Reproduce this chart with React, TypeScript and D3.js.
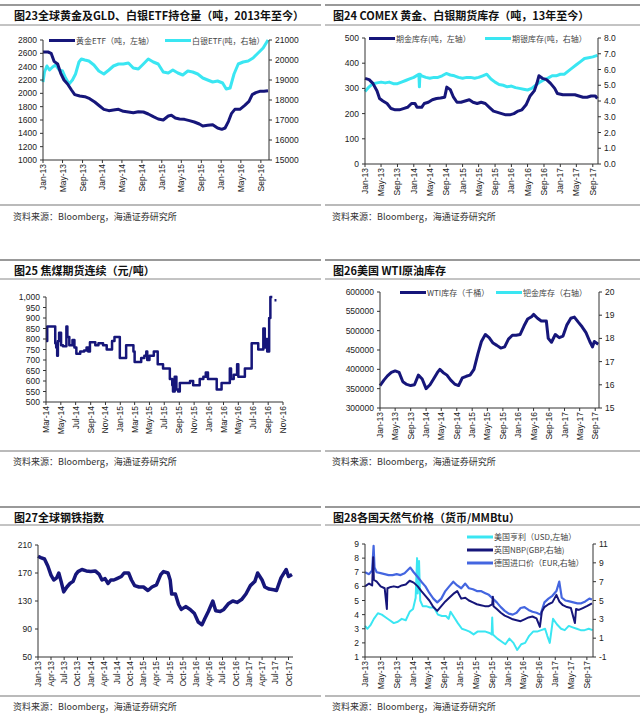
import React from "react";
import * as d3 from "d3";

type Pt = [string, number | null];

const NAVY = "#16167a";
const CYAN = "#3ae6f2";
const MIDBLUE = "#4466e0";

// 图23 全球黄金 / 白银 ETF
const goldEtf: Pt[] = [
	["2013-01-01", 2620], ["2013-02-01", 2620], ["2013-02-20", 2600], ["2013-03-10", 2480], ["2013-04-01", 2440],
	["2013-04-20", 2300], ["2013-05-10", 2200], ["2013-06-01", 2140], ["2013-06-25", 2050], ["2013-07-15", 1980],
	["2013-08-15", 1960], ["2013-09-15", 1950], ["2013-10-15", 1920], ["2013-11-15", 1870], ["2013-12-15", 1810],
	["2014-01-10", 1760], ["2014-02-10", 1740], ["2014-03-10", 1750], ["2014-04-10", 1760], ["2014-05-10", 1730],
	["2014-06-10", 1720], ["2014-07-10", 1710], ["2014-08-10", 1725], ["2014-09-10", 1720], ["2014-10-10", 1690],
	["2014-11-10", 1650], ["2014-12-10", 1615], ["2015-01-10", 1600], ["2015-02-10", 1660], ["2015-03-01", 1670],
	["2015-03-25", 1630], ["2015-04-20", 1615], ["2015-05-20", 1610], ["2015-06-20", 1590], ["2015-07-20", 1570],
	["2015-08-20", 1540], ["2015-09-10", 1510], ["2015-10-10", 1520], ["2015-11-10", 1530], ["2015-12-10", 1480],
	["2016-01-05", 1460], ["2016-01-25", 1480], ["2016-02-15", 1580], ["2016-03-05", 1700], ["2016-03-25", 1760],
	["2016-04-25", 1760], ["2016-05-25", 1820], ["2016-06-20", 1880], ["2016-07-10", 1980], ["2016-08-01", 2010],
	["2016-08-25", 2030], ["2016-09-20", 2030], ["2016-10-15", 2040],
];
const silverEtf: Pt[] = [
	["2013-01-01", 18900], ["2013-01-10", 19400], ["2013-01-25", 19700], ["2013-02-10", 19500], ["2013-03-01", 19650],
	["2013-03-20", 19750], ["2013-04-10", 19500], ["2013-05-01", 19450], ["2013-05-20", 19100], ["2013-06-10", 18800],
	["2013-07-01", 19000], ["2013-07-20", 19300], ["2013-08-10", 19900], ["2013-08-25", 20050], ["2013-09-15", 20000],
	["2013-10-10", 19950], ["2013-11-10", 19750], ["2013-12-10", 19450], ["2014-01-10", 19300], ["2014-02-10", 19500],
	["2014-03-10", 19700], ["2014-04-10", 19800], ["2014-05-10", 19800], ["2014-06-10", 19850], ["2014-07-10", 19600],
	["2014-08-10", 19550], ["2014-09-10", 19800], ["2014-10-10", 20050], ["2014-11-10", 19900], ["2014-12-10", 19800],
	["2015-01-10", 19400], ["2015-02-10", 19350], ["2015-03-10", 19500], ["2015-04-10", 19350], ["2015-05-10", 19250],
	["2015-06-10", 19450], ["2015-07-10", 19400], ["2015-08-10", 19300], ["2015-09-10", 19100], ["2015-10-10", 19000],
	["2015-11-10", 18900], ["2015-12-10", 18950], ["2016-01-10", 18850], ["2016-02-01", 18550], ["2016-02-25", 18600],
	["2016-03-20", 19300], ["2016-04-15", 19800], ["2016-05-15", 19900], ["2016-06-15", 19950], ["2016-07-15", 20100],
	["2016-08-15", 20350], ["2016-09-15", 20600], ["2016-10-15", 21000],
];

// 图24 COMEX 库存
const comexGold: Pt[] = [
	["2013-01-01", 340], ["2013-02-01", 335], ["2013-03-01", 320], ["2013-04-01", 290], ["2013-04-20", 260],
	["2013-05-15", 250], ["2013-06-15", 240], ["2013-07-15", 220], ["2013-08-15", 215], ["2013-09-15", 215],
	["2013-10-15", 220], ["2013-11-15", 225], ["2013-12-15", 240], ["2014-01-10", 240], ["2014-01-25", 225],
	["2014-03-01", 225], ["2014-03-20", 240], ["2014-04-20", 245], ["2014-05-20", 255], ["2014-06-20", 260],
	["2014-07-20", 262], ["2014-08-20", 265], ["2014-09-05", 305], ["2014-10-01", 295], ["2014-10-25", 265],
	["2014-11-20", 245], ["2014-12-20", 245], ["2015-01-20", 250], ["2015-02-20", 255], ["2015-03-20", 245],
	["2015-04-20", 240], ["2015-05-20", 245], ["2015-06-20", 240], ["2015-07-20", 225], ["2015-08-20", 210],
	["2015-09-20", 205], ["2015-10-20", 200], ["2015-11-20", 195], ["2015-12-20", 195], ["2016-01-20", 200],
	["2016-02-20", 210], ["2016-03-20", 215], ["2016-04-20", 235], ["2016-05-20", 270], ["2016-06-20", 290],
	["2016-07-10", 320], ["2016-07-25", 350], ["2016-08-20", 340], ["2016-09-20", 335], ["2016-10-20", 320],
	["2016-11-20", 300], ["2016-12-10", 280], ["2017-01-20", 275], ["2017-02-20", 275], ["2017-03-20", 275],
	["2017-04-20", 275], ["2017-05-20", 270], ["2017-06-20", 265], ["2017-07-20", 265], ["2017-08-20", 270],
	["2017-09-20", 270], ["2017-10-05", 260],
];
const comexSilver: Pt[] = [
	["2013-01-01", 4.6], ["2013-02-01", 4.9], ["2013-03-01", 5.1], ["2013-04-01", 5.15], ["2013-05-01", 5.2],
	["2013-06-01", 5.15], ["2013-07-01", 5.2], ["2013-08-01", 5.1], ["2013-09-01", 5.1], ["2013-10-01", 5.2],
	["2013-11-01", 5.3], ["2013-12-01", 5.4], ["2014-01-01", 5.5], ["2014-02-08", 5.7], ["2014-02-12", 4.9],
	["2014-02-16", 5.7], ["2014-03-01", 5.6], ["2014-04-01", 5.5], ["2014-05-01", 5.45], ["2014-06-01", 5.5],
	["2014-07-01", 5.5], ["2014-08-01", 5.6], ["2014-09-01", 5.75], ["2014-10-01", 5.65], ["2014-11-01", 5.6],
	["2014-12-01", 5.5], ["2015-01-01", 5.45], ["2015-02-01", 5.5], ["2015-03-01", 5.5], ["2015-04-01", 5.45],
	["2015-05-01", 5.5], ["2015-06-01", 5.6], ["2015-07-01", 5.7], ["2015-08-01", 5.4], ["2015-09-01", 5.2],
	["2015-10-01", 5.05], ["2015-11-01", 5.0], ["2015-12-01", 4.9], ["2016-01-01", 4.95], ["2016-02-01", 4.85],
	["2016-03-01", 4.8], ["2016-04-01", 4.75], ["2016-05-01", 4.7], ["2016-06-01", 4.8], ["2016-07-01", 5.0],
	["2016-08-01", 5.2], ["2016-09-01", 5.35], ["2016-10-01", 5.45], ["2016-11-01", 5.6], ["2016-12-01", 5.6],
	["2017-01-01", 5.7], ["2017-02-01", 5.7], ["2017-03-01", 5.9], ["2017-04-01", 6.1], ["2017-05-01", 6.3],
	["2017-06-01", 6.5], ["2017-07-01", 6.7], ["2017-08-01", 6.75], ["2017-09-01", 6.8], ["2017-10-05", 6.9],
];

// 图25 焦煤期货连续 (step series, null = gap)
const cokingCoal: Pt[] = [
	["2014-03-01", 790], ["2014-03-06", 860], ["2014-04-08", 780], ["2014-04-12", 760], ["2014-04-16", 720],
	["2014-04-19", 790], ["2014-04-24", 830], ["2014-05-02", 770], ["2014-05-10", 765], ["2014-05-24", 860],
	["2014-05-28", 810], ["2014-06-05", 770], ["2014-06-18", 795], ["2014-06-26", 760], ["2014-07-04", 730],
	["2014-07-20", 740], ["2014-08-05", 745], ["2014-08-15", 760], ["2014-08-22", 740], ["2014-08-29", 785],
	["2014-09-20", 770], ["2014-10-03", 780], ["2014-10-22", 770], ["2014-11-06", 750], ["2014-11-28", 790],
	["2014-12-08", 810], ["2014-12-30", 710], ["2015-01-25", 770], ["2015-02-24", 740], ["2015-03-01", 690],
	["2015-03-28", 710], ["2015-04-10", 720], ["2015-04-18", 740], ["2015-04-22", 700], ["2015-05-01", 720],
	["2015-05-19", 740], ["2015-06-04", 680], ["2015-06-26", 660], ["2015-07-24", 610], ["2015-08-03", 580],
	["2015-08-06", 550], ["2015-08-13", 620], ["2015-08-20", 560], ["2015-08-27", 550], ["2015-09-03", 590],
	["2015-10-15", 600], ["2015-10-28", 580], ["2015-11-24", 610], ["2015-12-09", 620], ["2015-12-19", 640],
	["2015-12-28", 610], ["2016-02-02", 560], ["2016-02-22", 590], ["2016-03-27", 660], ["2016-04-01", 610],
	["2016-04-12", 630], ["2016-04-26", 680], ["2016-05-01", 620], ["2016-05-28", 660], ["2016-06-25", 780],
	["2016-07-22", 750], ["2016-08-12", 850], ["2016-08-18", 760], ["2016-08-25", 800], ["2016-08-28", 740],
	["2016-09-05", 900], ["2016-09-10", 1000], ["2016-09-18", 1000], ["2016-09-21", null], ["2016-09-27", 985],
	["2016-10-05", 985],
];

// 图26 美国 WTI 原油库存 (千桶)
const wtiStocks: Pt[] = [
	["2013-01-01", 358000], ["2013-02-01", 372000], ["2013-03-01", 383000], ["2013-04-01", 392000], ["2013-05-01", 396000],
	["2013-06-01", 392000], ["2013-07-01", 368000], ["2013-08-01", 361000], ["2013-09-01", 358000], ["2013-10-01", 360000],
	["2013-11-01", 385000], ["2013-12-01", 375000], ["2014-01-01", 350000], ["2014-02-01", 360000], ["2014-03-01", 375000],
	["2014-04-01", 392000], ["2014-04-20", 400000], ["2014-05-15", 392000], ["2014-06-15", 385000], ["2014-07-15", 372000],
	["2014-08-15", 362000], ["2014-09-15", 358000], ["2014-10-15", 378000], ["2014-11-15", 382000], ["2014-12-15", 385000],
	["2015-01-15", 400000], ["2015-02-15", 440000], ["2015-03-15", 472000], ["2015-04-15", 490000], ["2015-05-15", 482000],
	["2015-06-15", 468000], ["2015-07-15", 462000], ["2015-08-15", 455000], ["2015-09-15", 458000], ["2015-10-15", 478000],
	["2015-11-15", 488000], ["2015-12-15", 488000], ["2016-01-15", 490000], ["2016-02-15", 512000], ["2016-03-15", 530000],
	["2016-04-15", 536000], ["2016-05-01", 542000], ["2016-06-01", 532000], ["2016-07-01", 525000], ["2016-08-10", 525000],
	["2016-08-25", 480000], ["2016-09-20", 470000], ["2016-10-20", 490000], ["2016-11-20", 482000], ["2016-12-20", 486000],
	["2017-01-20", 515000], ["2017-02-20", 532000], ["2017-03-20", 535000], ["2017-04-20", 522000], ["2017-05-20", 510000],
	["2017-06-20", 495000], ["2017-07-20", 472000], ["2017-08-10", 458000], ["2017-08-25", 472000], ["2017-09-25", 465000],
];

// 图27 全球钢铁指数
const steelIndex: Pt[] = [
	["2013-01-01", 194], ["2013-01-20", 192], ["2013-02-15", 190], ["2013-03-10", 180], ["2013-04-01", 167],
	["2013-04-20", 160], ["2013-05-10", 163], ["2013-05-25", 170], ["2013-06-10", 158], ["2013-06-28", 143],
	["2013-07-20", 150], ["2013-08-10", 155], ["2013-09-01", 158], ["2013-09-20", 168], ["2013-10-05", 172],
	["2013-11-01", 175], ["2013-12-01", 173], ["2014-01-01", 172], ["2014-02-01", 173], ["2014-03-01", 168],
	["2014-03-20", 160], ["2014-04-10", 162], ["2014-05-01", 155], ["2014-05-20", 160], ["2014-06-10", 160],
	["2014-07-01", 162], ["2014-08-01", 165], ["2014-08-20", 170], ["2014-09-20", 170], ["2014-10-10", 160],
	["2014-11-01", 152], ["2014-12-01", 150], ["2015-01-01", 150], ["2015-02-01", 145], ["2015-03-01", 150],
	["2015-04-01", 153], ["2015-05-01", 168], ["2015-05-20", 172], ["2015-06-20", 170], ["2015-07-05", 160],
	["2015-07-15", 140], ["2015-08-10", 140], ["2015-09-01", 125], ["2015-09-20", 118], ["2015-10-20", 122],
	["2015-11-20", 118], ["2015-12-20", 112], ["2016-01-15", 100], ["2016-02-10", 96], ["2016-03-01", 105],
	["2016-03-25", 115], ["2016-04-25", 130], ["2016-05-15", 116], ["2016-06-15", 115], ["2016-07-10", 118],
	["2016-08-10", 126], ["2016-09-10", 130], ["2016-10-10", 128], ["2016-11-10", 132], ["2016-12-10", 140],
	["2017-01-10", 152], ["2017-02-10", 158], ["2017-03-01", 170], ["2017-04-01", 160], ["2017-04-20", 150],
	["2017-05-20", 147], ["2017-06-20", 146], ["2017-07-10", 145], ["2017-08-10", 163], ["2017-09-15", 175],
	["2017-10-01", 165], ["2017-10-25", 168],
];

// 图28 各国天然气价格
const usHenryHub: Pt[] = [
	["2013-01-01", 3.2], ["2013-01-20", 3.0], ["2013-02-15", 3.3], ["2013-03-10", 3.7], ["2013-04-10", 4.1],
	["2013-05-10", 4.0], ["2013-06-10", 3.8], ["2013-07-10", 3.6], ["2013-08-10", 3.4], ["2013-09-10", 3.5],
	["2013-10-10", 3.7], ["2013-11-10", 3.6], ["2013-12-10", 4.2], ["2014-01-05", 4.4], ["2014-01-25", 5.2],
	["2014-02-05", 8.0], ["2014-02-10", 5.5], ["2014-02-20", 7.8], ["2014-03-01", 5.0], ["2014-03-20", 4.6],
	["2014-04-15", 4.6], ["2014-05-15", 4.5], ["2014-06-15", 4.5], ["2014-07-15", 4.0], ["2014-08-15", 3.9],
	["2014-09-15", 3.9], ["2014-10-05", 3.7], ["2014-10-20", 4.2], ["2014-11-10", 3.9], ["2014-12-15", 3.4],
	["2015-01-15", 3.0], ["2015-02-15", 2.9], ["2015-03-15", 2.8], ["2015-04-15", 2.6], ["2015-05-15", 2.8],
	["2015-06-15", 2.8], ["2015-07-15", 2.8], ["2015-08-15", 2.7], ["2015-09-01", 2.6], ["2015-09-05", 3.8],
	["2015-09-10", 2.6], ["2015-10-15", 2.3], ["2015-11-15", 2.1], ["2015-12-15", 1.9], ["2016-01-15", 2.3],
	["2016-02-15", 2.0], ["2016-03-15", 1.5], ["2016-04-15", 1.9], ["2016-05-15", 2.0], ["2016-06-15", 2.5],
	["2016-07-15", 2.8], ["2016-08-15", 2.8], ["2016-09-15", 2.9], ["2016-10-15", 3.0], ["2016-11-01", 2.5],
	["2016-11-20", 2.0], ["2016-12-15", 3.7], ["2017-01-15", 3.3], ["2017-02-15", 3.0], ["2017-03-15", 2.9],
	["2017-04-15", 3.2], ["2017-05-15", 3.1], ["2017-06-15", 3.0], ["2017-07-15", 2.9], ["2017-08-15", 2.9],
	["2017-09-15", 3.0], ["2017-10-15", 2.9],
];
const ukNbp: Pt[] = [
	["2013-01-01", 6.5], ["2013-02-01", 6.8], ["2013-02-25", 6.6], ["2013-03-05", 9.6], ["2013-03-10", 7.2],
	["2013-04-01", 7.0], ["2013-05-01", 6.5], ["2013-06-01", 6.3], ["2013-06-18", 4.1], ["2013-06-22", 6.3],
	["2013-07-10", 6.4], ["2013-08-10", 6.5], ["2013-09-10", 6.4], ["2013-10-10", 6.6], ["2013-11-10", 6.7],
	["2013-12-10", 7.1], ["2014-01-10", 6.9], ["2014-02-10", 6.5], ["2014-03-10", 6.0], ["2014-04-10", 5.5],
	["2014-05-10", 5.0], ["2014-06-10", 4.3], ["2014-07-10", 3.9], ["2014-08-10", 4.4], ["2014-09-10", 4.9],
	["2014-10-10", 5.3], ["2014-11-10", 5.7], ["2014-12-10", 6.0], ["2015-01-10", 5.2], ["2015-02-10", 5.3],
	["2015-03-10", 5.0], ["2015-04-10", 4.8], ["2015-05-10", 4.6], ["2015-06-10", 4.5], ["2015-07-10", 4.4],
	["2015-08-10", 4.4], ["2015-09-05", 4.6], ["2015-09-10", 5.4], ["2015-09-15", 4.4], ["2015-10-10", 4.1],
	["2015-11-10", 3.7], ["2015-12-10", 3.4], ["2016-01-10", 3.2], ["2016-02-10", 3.0], ["2016-03-10", 2.9],
	["2016-04-10", 2.8], ["2016-05-10", 3.0], ["2016-06-10", 3.2], ["2016-07-10", 3.3], ["2016-08-10", 3.1],
	["2016-09-05", 2.2], ["2016-09-20", 3.8], ["2016-10-10", 4.3], ["2016-11-10", 4.6], ["2016-12-10", 4.8],
	["2017-01-10", 5.6], ["2017-02-01", 4.9], ["2017-03-01", 4.5], ["2017-04-01", 4.3], ["2017-05-01", 4.2],
	["2017-06-01", 2.6], ["2017-06-10", 4.1], ["2017-07-01", 4.0], ["2017-08-01", 4.2], ["2017-09-01", 4.4],
	["2017-10-10", 4.7],
];
const deImport: Pt[] = [
	["2013-01-01", 8.0], ["2013-02-01", 7.8], ["2013-02-25", 8.2], ["2013-03-08", 10.8], ["2013-03-15", 8.5],
	["2013-04-01", 8.0], ["2013-05-01", 7.9], ["2013-06-01", 7.8], ["2013-07-01", 7.7], ["2013-08-01", 7.7],
	["2013-09-01", 7.8], ["2013-10-01", 7.7], ["2013-11-01", 7.9], ["2013-12-15", 8.5], ["2014-01-10", 8.0],
	["2014-02-10", 7.5], ["2014-03-10", 7.0], ["2014-04-10", 6.5], ["2014-05-10", 5.8], ["2014-06-10", 5.2],
	["2014-07-10", 4.8], ["2014-08-10", 5.2], ["2014-09-10", 6.0], ["2014-10-10", 6.5], ["2014-11-10", 7.0],
	["2014-12-10", 6.6], ["2015-01-10", 6.3], ["2015-02-10", 6.8], ["2015-03-10", 6.3], ["2015-04-10", 6.2],
	["2015-05-10", 6.0], ["2015-06-10", 6.0], ["2015-07-10", 5.8], ["2015-08-10", 5.6], ["2015-09-10", 5.2],
	["2015-10-10", 4.8], ["2015-11-10", 4.3], ["2015-12-10", 3.9], ["2016-01-10", 3.6], ["2016-02-10", 3.5],
	["2016-03-10", 3.7], ["2016-04-10", 4.2], ["2016-05-10", 4.3], ["2016-06-10", 4.0], ["2016-07-10", 3.8],
	["2016-08-10", 3.7], ["2016-09-10", 3.5], ["2016-10-10", 4.8], ["2016-11-10", 5.2], ["2016-12-10", 5.5],
	["2017-01-10", 6.0], ["2017-02-01", 7.0], ["2017-02-20", 5.3], ["2017-03-20", 5.0], ["2017-04-20", 4.9],
	["2017-05-20", 4.8], ["2017-06-20", 4.7], ["2017-07-20", 4.7], ["2017-08-20", 4.9], ["2017-09-20", 5.2],
	["2017-10-10", 5.1],
];

const goldLeftTicks = [1000, 1200, 1400, 1600, 1800, 2000, 2200, 2400, 2600, 2800];
const silverRightTicks = [15000, 16000, 17000, 18000, 19000, 20000, 21000];
const comexLeftTicks = [0, 100, 200, 300, 400, 500];
const comexRightTicks = [0, 1, 2, 3, 4, 5, 6, 7, 8];
const coalTicks = [500, 550, 600, 650, 700, 750, 800, 850, 900, 950, 1000];
const wtiLeftTicks = [300000, 350000, 400000, 450000, 500000, 550000, 600000];
const wtiRightTicks = [15, 16, 17, 18, 19, 20];
const steelTicks = [50, 90, 130, 170, 210];
const gasLeftTicks = [1, 2, 3, 4, 5, 6, 7, 8, 9];
const gasRightTicks = [-1, 1, 3, 5, 7, 9, 11];

const SOURCE = "资料来源：Bloomberg，海通证券研究所";
const CJK = "'Noto Sans CJK SC', 'Liberation Sans', sans-serif";
const LAT = "'Liberation Sans', Arial, sans-serif";

const parse = d3.timeParse("%Y-%m-%d");
const fmtMonth = d3.timeFormat("%b-%y");

interface Series {data: Pt[]; axis: "left" | "right"; color: string; width: number; step?: boolean}
interface Legend {label: string; color: string; x: number; y: number}
interface AxisCfg {ticks: number[]; fmt?: (v: number) => string}
interface PanelCfg {
	side: "L" | "R";
	rows: {top: number; title: number; sub: number; bottom: number; source: number};
	title: string;
	plot: {l: number; r: number; t: number; b: number};
	xDomain: [string, string];
	xEvery: number;
	left: AxisCfg;
	right?: AxisCfg;
	series: Series[];
	legend: Legend[];
	legendLine?: number;
}

const row1 = {top: 5, title: 19.5, sub: 25, bottom: 205, source: 219.5};
const row2 = {top: 260, title: 274.5, sub: 279, bottom: 451, source: 464.5};
const row3 = {top: 507, title: 521.5, sub: 525, bottom: 696, source: 709.5};

const Panel: React.FC<{cfg: PanelCfg}> = ({cfg}) => {
	const {plot, rows} = cfg;
	const rx0 = cfg.side === "L" ? 0 : 325;
	const rx1 = cfg.side === "L" ? 321 : 640;
	const tx = cfg.side === "L" ? 14 : 333;

	const d0 = parse(cfg.xDomain[0]) as Date;
	const d1 = parse(cfg.xDomain[1]) as Date;
	const x = d3.scaleTime().domain([d0, d1]).range([plot.l, plot.r]);
	const lt = cfg.left.ticks;
	const yL = d3.scaleLinear().domain([lt[0], lt[lt.length - 1]]).range([plot.b, plot.t]);
	const rt = cfg.right?.ticks;
	const yR = rt ? d3.scaleLinear().domain([rt[0], rt[rt.length - 1]]).range([plot.b, plot.t]) : yL;
	const xTicks = d3.timeMonth.every(cfg.xEvery)!.range(d0, d3.timeDay.offset(d1, 1));
	const lfmt = cfg.left.fmt || ((v: number) => String(v));
	const rfmt = cfg.right?.fmt || ((v: number) => String(v));
	const legLen = cfg.legendLine || 26;

	return (
		<g>
			<line x1={rx0} x2={rx1} y1={rows.top} y2={rows.top} stroke="#777" strokeWidth={1.3} />
			<text x={tx} y={rows.title} fontFamily={CJK} fontWeight="bold" fontSize={11} fill="#111">
				{cfg.title}
			</text>
			<line x1={rx0} x2={rx1} y1={rows.sub} y2={rows.sub} stroke="#888" strokeWidth={1} />

			{cfg.series.map((s, i) => {
				const y = s.axis === "left" ? yL : yR;
				const gen = d3
					.line<Pt>()
					.defined((d) => d[1] != null)
					.x((d) => x(parse(d[0]) as Date))
					.y((d) => y(d[1] as number))
					.curve(s.step ? d3.curveStepAfter : d3.curveLinear);
				return (
					<path key={i} d={gen(s.data) || ""} fill="none" stroke={s.color} strokeWidth={s.width}
						strokeLinejoin="round" />
				);
			})}

			{/* left axis */}
			<line x1={plot.l} x2={plot.l} y1={plot.t} y2={plot.b} stroke="#333" />
			{lt.map((v) => (
				<g key={"l" + v}>
					<line x1={plot.l - 3} x2={plot.l} y1={yL(v)} y2={yL(v)} stroke="#333" />
					<text x={plot.l - 6} y={yL(v) + 3} textAnchor="end" fontFamily={LAT} fontSize={8.5} fill="#222">
						{lfmt(v)}
					</text>
				</g>
			))}
			{rt && (
				<g>
					<line x1={plot.r} x2={plot.r} y1={plot.t} y2={plot.b} stroke="#333" />
					{rt.map((v) => (
						<g key={"r" + v}>
							<line x1={plot.r} x2={plot.r + 3} y1={yR(v)} y2={yR(v)} stroke="#333" />
							<text x={plot.r + 6} y={yR(v) + 3} fontFamily={LAT} fontSize={8.5} fill="#222">
								{rfmt(v)}
							</text>
						</g>
					))}
				</g>
			)}

			{/* x axis */}
			<line x1={plot.l} x2={plot.r} y1={plot.b} y2={plot.b} stroke="#333" />
			{xTicks.map((d) => (
				<g key={d.getTime()}>
					<line x1={x(d)} x2={x(d)} y1={plot.b} y2={plot.b + 3} stroke="#333" />
					<text transform={`translate(${x(d) + 3},${plot.b + 4}) rotate(-90)`} textAnchor="end"
						fontFamily={LAT} fontSize={8.5} fill="#222">
						{fmtMonth(d)}
					</text>
				</g>
			))}

			{cfg.legend.map((lg) => (
				<g key={lg.label}>
					<line x1={lg.x} x2={lg.x + legLen} y1={lg.y} y2={lg.y} stroke={lg.color} strokeWidth={3} />
					<text x={lg.x + legLen + 1} y={lg.y + 3} fontFamily={CJK} fontSize={8} fill="#444">
						{lg.label}
					</text>
				</g>
			))}

			<line x1={rx0} x2={rx1} y1={rows.bottom} y2={rows.bottom} stroke="#777" strokeWidth={1.2} />
			<text x={tx - 1} y={rows.source} fontFamily={CJK} fontSize={9} fill="#333">
				{SOURCE}
			</text>
		</g>
	);
};

const panels: PanelCfg[] = [
	{
		side: "L", rows: row1,
		title: "图23全球黄金及GLD、白银ETF持仓量（吨，2013年至今）",
		plot: {l: 43, r: 269, t: 40, b: 160},
		xDomain: ["2013-01-01", "2016-10-21"], xEvery: 4,
		left: {ticks: goldLeftTicks},
		right: {ticks: silverRightTicks},
		series: [
			{data: silverEtf, axis: "right", color: CYAN, width: 3},
			{data: goldEtf, axis: "left", color: NAVY, width: 3},
		],
		legend: [
			{label: "黄金ETF（吨，左轴）", color: NAVY, x: 49, y: 40.5},
			{label: "白银ETF(吨，右轴）", color: CYAN, x: 165, y: 40.5},
		],
	},
	{
		side: "R", rows: row1,
		title: "图24 COMEX 黄金、白银期货库存（吨，13年至今）",
		plot: {l: 365, r: 598, t: 38, b: 164},
		xDomain: ["2013-01-01", "2017-10-10"], xEvery: 4,
		left: {ticks: comexLeftTicks},
		right: {ticks: comexRightTicks, fmt: d3.format(".1f")},
		series: [
			{data: comexSilver, axis: "right", color: CYAN, width: 3},
			{data: comexGold, axis: "left", color: NAVY, width: 3},
		],
		legend: [
			{label: "期金库存(吨，左轴）", color: NAVY, x: 369, y: 38.5},
			{label: "期银库存(吨，右轴）", color: CYAN, x: 485, y: 38.5},
		],
	},
	{
		side: "L", rows: row2,
		title: "图25 焦煤期货连续（元/吨）",
		plot: {l: 46, r: 283, t: 297, b: 402},
		xDomain: ["2014-03-01", "2016-11-01"], xEvery: 2,
		left: {ticks: coalTicks, fmt: d3.format(",")},
		series: [{data: cokingCoal, axis: "left", color: NAVY, width: 2.5, step: true}],
		legend: [],
	},
	{
		side: "R", rows: row2,
		title: "图26美国  WTI原油库存",
		plot: {l: 380, r: 599, t: 292, b: 408},
		xDomain: ["2013-01-01", "2017-10-01"], xEvery: 4,
		left: {ticks: wtiLeftTicks},
		right: {ticks: wtiRightTicks},
		series: [{data: wtiStocks, axis: "left", color: NAVY, width: 3}],
		legend: [
			{label: "WTI库存（千桶）", color: NAVY, x: 400, y: 292.5},
			{label: "钯金库存（右轴）", color: CYAN, x: 496, y: 292.5},
		],
	},
	{
		side: "L", rows: row3,
		title: "图27全球钢铁指数",
		plot: {l: 38, r: 293, t: 545, b: 657},
		xDomain: ["2013-01-01", "2017-11-01"], xEvery: 3,
		left: {ticks: steelTicks},
		series: [{data: steelIndex, axis: "left", color: NAVY, width: 3.5}],
		legend: [],
	},
	{
		side: "R", rows: row3,
		title: "图28各国天然气价格（货币/MMBtu）",
		plot: {l: 365, r: 593, t: 544, b: 657},
		xDomain: ["2013-01-01", "2017-10-18"], xEvery: 4,
		left: {ticks: gasLeftTicks},
		right: {ticks: gasRightTicks},
		series: [
			{data: usHenryHub, axis: "left", color: CYAN, width: 2},
			{data: deImport, axis: "right", color: MIDBLUE, width: 2.2},
			{data: ukNbp, axis: "right", color: NAVY, width: 2},
		],
		legend: [
			{label: "美国亨利（USD,左轴）", color: CYAN, x: 467, y: 537},
			{label: "英国NBP(GBP,右轴)", color: NAVY, x: 467, y: 550},
			{label: "德国进口价（EUR,右轴）", color: MIDBLUE, x: 467, y: 563},
		],
	},
];

const App: React.FC = () => (
	<svg width={640} height={717} style={{position: "absolute", left: 0, top: 0, background: "#fff"}}>
		<rect width={640} height={717} fill="#fff" />
		{panels.map((p, i) => (
			<Panel key={i} cfg={p} />
		))}
	</svg>
);

export default App;
